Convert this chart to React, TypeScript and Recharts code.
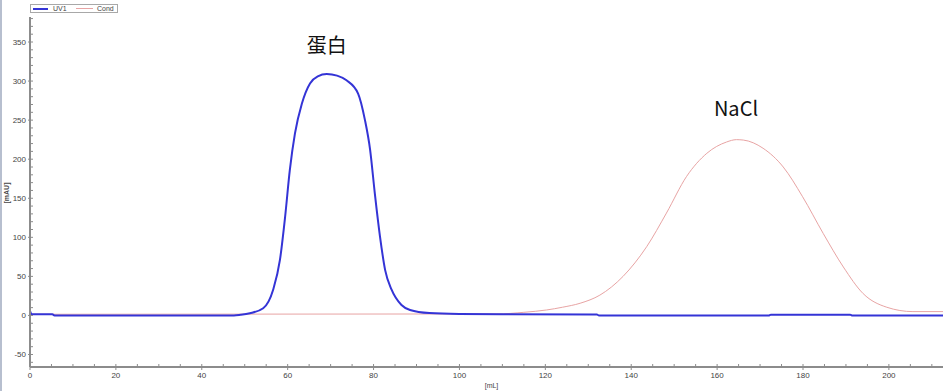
import React from 'react';
import { LineChart, Line, XAxis, YAxis, Legend, ReferenceDot } from 'recharts';

// UV1 trace (mL, mAU)
const uvVolume = [0, 0.4, 1.0, 5.2, 5.7, 47.5, 49.0, 51.2, 54.3, 56.6, 58.2, 59.4, 60.5, 61.7, 63.3, 65.2, 67.0, 69.1, 71.5, 73.7, 76.4, 78.0, 79.2, 80.3, 81.5, 82.7, 84.2, 86.5, 88.5, 93.0, 100.0, 110.0, 132.0, 132.5, 172.0, 172.5, 191.0, 191.5, 212.6];
const uvAbsorbance = [6, 1.5, 1.5, 1.5, 0, 0, 0.8, 2.8, 9.2, 32.6, 71, 126, 186, 233, 271, 297, 306, 309, 307, 301, 284, 250, 212, 156, 101, 58, 33, 13.4, 7, 3, 1.8, 1.4, 1.1, 0, 0, 1, 1, 0, 0];

// Cond trace (mL, scaled)
const condVolume = [0, 108.7, 115.0, 120.3, 124.0, 128.1, 132.7, 138.1, 143.6, 148.2, 152.9, 157.6, 162.2, 164.5, 166.1, 170.7, 175.4, 179.9, 184.7, 189.4, 194.0, 199.5, 205.6, 212.6];
const condValue = [1.5, 1.9, 4, 7, 10.5, 15.6, 26, 50, 88, 131, 178, 207.5, 222, 225, 224.5, 214, 190, 152, 105, 62, 28, 10.5, 4.9, 4.9];

const xTicks = [0, 5, 10, 15, 20, 25, 30, 35, 40, 45, 50, 55, 60, 65, 70, 75, 80, 85, 90, 95, 100, 105, 110, 115, 120, 125, 130, 135, 140, 145, 150, 155, 160, 165, 170, 175, 180, 185, 190, 195, 200, 205, 210];
const yTicks = [-60, -50, -40, -30, -20, -10, 0, 10, 20, 30, 40, 50, 60, 70, 80, 90, 100, 110, 120, 130, 140, 150, 160, 170, 180, 190, 200, 210, 220, 230, 240, 250, 260, 270, 280, 290, 300, 310, 320, 330, 340, 350, 360, 370, 380];

const legendOrder = ['UV1', 'Cond'];
const peakNames = ['蛋白', 'NaCl'];
const peakVolume = [69.1, 164.4];
const peakHeight = [345, 264];

const uvData = uvVolume.map((ml, i) => ({ ml, mau: uvAbsorbance[i] }));
const condData = condVolume.map((ml, i) => ({ ml, cond: condValue[i] }));

const UV_COLOR = '#3434d6';
const COND_COLOR = '#e8a4a4';
const AXIS_COLOR = '#8c8c8c';
const TICK_FONT = '"Liberation Sans", Arial, sans-serif';

const YTick = (props: any) => {
  const { x, y, payload } = props;
  const v = payload.value;
  const major = v % 50 === 0;
  return (
    <g>
      <line x1={major ? x - 2 : x} x2={x + 3} y1={y} y2={y} stroke={AXIS_COLOR} strokeWidth={1} />
      {major && (
        <text x={x - 4} y={y} textAnchor="end" dominantBaseline="central" fontSize={8} fill="#444" fontFamily={TICK_FONT}>
          {v}
        </text>
      )}
    </g>
  );
};

const XTick = (props: any) => {
  const { x, y, payload } = props;
  const v = payload.value;
  const major = v % 20 === 0;
  return (
    <g>
      <line x1={x} x2={x} y1={y - 3} y2={major ? y + 3 : y} stroke={AXIS_COLOR} strokeWidth={1} />
      {major && (
        <text x={x} y={y + 8} textAnchor="middle" dominantBaseline="central" fontSize={8} fill="#444" fontFamily={TICK_FONT}>
          {v}
        </text>
      )}
    </g>
  );
};

const LegendBox = (props: any) => {
  const raw = (props.payload || []) as any[];
  const items = legendOrder
    .map((n) => raw.find((it) => it.value === n))
    .filter(Boolean) as any[];
  const slots = [
    { line: 2, w: 15, text: 22, h: 2 },
    { line: 45, w: 17, text: 66, h: 1 },
  ];
  return (
    <div
      style={{
        width: 88,
        height: 9,
        border: '1px solid #a8a8a8',
        background: '#fff',
        position: 'relative',
        boxSizing: 'border-box',
        fontFamily: TICK_FONT,
        fontSize: 7,
        color: '#444',
      }}
    >
      {items.map((it, i) => (
        <React.Fragment key={i}>
          <div
            style={{
              position: 'absolute',
              left: slots[i].line,
              top: 3,
              width: slots[i].w,
              height: slots[i].h,
              background: it.color,
            }}
          />
          <span style={{ position: 'absolute', left: slots[i].text, top: 0, lineHeight: '7px' }}>{it.value}</span>
        </React.Fragment>
      ))}
    </div>
  );
};

const YLabel = (props: any) => {
  const vb = props.viewBox || { x: 0, y: 17, width: 30, height: 350 };
  const cx = vb.x + 6;
  const cy = vb.y + vb.height / 2 + 1;
  return (
    <text
      x={cx}
      y={cy}
      transform={`rotate(-90, ${cx}, ${cy})`}
      textAnchor="middle"
      dominantBaseline="central"
      fontSize={7}
      fontWeight="bold"
      fill="#444"
      fontFamily={TICK_FONT}
    >
      [mAU]
    </text>
  );
};

const XLabel = (props: any) => {
  const vb = props.viewBox || { x: 30, y: 367, width: 913, height: 24 };
  const cx = vb.x + vb.width / 2 + 5;
  const cy = vb.y + 18;
  return (
    <text x={cx} y={cy} textAnchor="middle" dominantBaseline="central" fontSize={7} fill="#444" fontFamily={TICK_FONT}>
      [mL]
    </text>
  );
};

export default function App() {
  return (
    <div style={{ position: 'absolute', left: 0, top: 0, width: 943, height: 391, background: '#fff' }}>
      <div style={{ position: 'absolute', left: 0, top: 0, width: 2, height: 391, background: '#b7bfcf' }} />
      <LineChart width={943} height={391} margin={{ top: 17, right: 0, bottom: 0, left: 0 }}>
        <XAxis
          type="number"
          dataKey="ml"
          domain={[0, 212.6]}
          allowDataOverflow
          ticks={xTicks}
          interval={0}
          height={24}
          tickSize={0}
          tickMargin={0}
          tickLine={false}
          axisLine={{ stroke: AXIS_COLOR, strokeWidth: 2 }}
          tick={<XTick />}
          label={<XLabel />}
        />
        <YAxis
          type="number"
          domain={[-66, 382]}
          allowDataOverflow
          ticks={yTicks}
          interval={0}
          width={30}
          tickSize={0}
          tickMargin={0}
          tickLine={false}
          axisLine={{ stroke: AXIS_COLOR, strokeWidth: 2 }}
          tick={<YTick />}
          label={<YLabel />}
        />
        <Legend
          layout="horizontal"
          verticalAlign="middle"
          align="center"
          wrapperStyle={{ position: 'absolute', top: 4, left: 30, width: 88, height: 9 }}
          content={<LegendBox />}
        />
        <Line
          data={condData}
          dataKey="cond"
          name="Cond"
          type="monotone"
          stroke={COND_COLOR}
          strokeWidth={1}
          dot={false}
          activeDot={false}
          isAnimationActive={false}
        />
        <Line
          data={uvData}
          dataKey="mau"
          name="UV1"
          type="monotone"
          stroke={UV_COLOR}
          strokeWidth={2}
          dot={false}
          activeDot={false}
          isAnimationActive={false}
        />
        {peakNames.map((name, i) => (
          <ReferenceDot
            key={name}
            x={peakVolume[i]}
            y={peakHeight[i]}
            r={0}
            fill="none"
            stroke="none"
            label={{
              value: name,
              position: 'center',
              fontSize: 20,
              fill: '#111',
              fontFamily: '"Noto Sans CJK SC", "Noto Sans", sans-serif',
            }}
          />
        ))}
      </LineChart>
    </div>
  );
}
